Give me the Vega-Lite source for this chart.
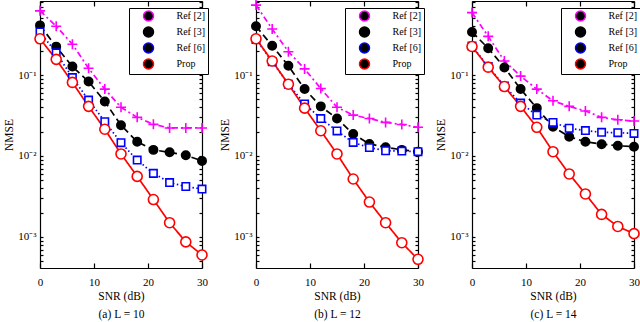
{
"$schema": "https://vega.github.io/schema/vega-lite/v6.json",
"width": 594, "height": 267,
"autosize": "none",
"padding": {"left": 40, "top": 1, "right": 6, "bottom": 54},
"resolve": {
  "scale": {"x": "independent", "color": "independent"},
  "axis": {"x": "independent", "y": "independent"},
  "legend": {"color": "independent"}
},
"layer": [
 {"data": {"values": [
{"series":"Ref [2]","snr":0,"nmse":0.62},{"series":"Ref [2]","snr":3,"nmse":0.40},{"series":"Ref [2]","snr":6,"nmse":0.24},{"series":"Ref [2]","snr":9,"nmse":0.121},{"series":"Ref [2]","snr":12,"nmse":0.067},{"series":"Ref [2]","snr":15,"nmse":0.040},{"series":"Ref [2]","snr":18,"nmse":0.030},{"series":"Ref [2]","snr":21,"nmse":0.0246},{"series":"Ref [2]","snr":24,"nmse":0.0222},{"series":"Ref [2]","snr":27,"nmse":0.0222},{"series":"Ref [2]","snr":30,"nmse":0.0222},
{"series":"Ref [3]","snr":0,"nmse":0.41},{"series":"Ref [3]","snr":3,"nmse":0.224},{"series":"Ref [3]","snr":6,"nmse":0.127},{"series":"Ref [3]","snr":9,"nmse":0.083},{"series":"Ref [3]","snr":12,"nmse":0.047},{"series":"Ref [3]","snr":15,"nmse":0.024},{"series":"Ref [3]","snr":18,"nmse":0.0150},{"series":"Ref [3]","snr":21,"nmse":0.0119},{"series":"Ref [3]","snr":24,"nmse":0.0111},{"series":"Ref [3]","snr":27,"nmse":0.0102},{"series":"Ref [3]","snr":30,"nmse":0.0087},
{"series":"Ref [6]","snr":0,"nmse":0.34},{"series":"Ref [6]","snr":3,"nmse":0.188},{"series":"Ref [6]","snr":6,"nmse":0.093},{"series":"Ref [6]","snr":9,"nmse":0.049},{"series":"Ref [6]","snr":12,"nmse":0.0265},{"series":"Ref [6]","snr":15,"nmse":0.0146},{"series":"Ref [6]","snr":18,"nmse":0.0089},{"series":"Ref [6]","snr":21,"nmse":0.0061},{"series":"Ref [6]","snr":24,"nmse":0.0047},{"series":"Ref [6]","snr":27,"nmse":0.0042},{"series":"Ref [6]","snr":30,"nmse":0.0039},
{"series":"Prop","snr":0,"nmse":0.28},{"series":"Prop","snr":3,"nmse":0.156},{"series":"Prop","snr":6,"nmse":0.081},{"series":"Prop","snr":9,"nmse":0.041},{"series":"Prop","snr":12,"nmse":0.0214},{"series":"Prop","snr":15,"nmse":0.0106},{"series":"Prop","snr":18,"nmse":0.0056},{"series":"Prop","snr":21,"nmse":0.0029},{"series":"Prop","snr":24,"nmse":0.0015},{"series":"Prop","snr":27,"nmse":0.00087},{"series":"Prop","snr":30,"nmse":0.0006}
  ]},
  "mark": {"type": "line", "strokeWidth": 1.7},
  "encoding": {
    "x": {"field": "snr", "type": "quantitative", "scale": {"domain": [0, 30], "nice": false, "range": [0, 162]}, "axis": {"orient": "bottom", "values": [0, 10, 20, 30], "title": ["SNR (dB)", "(a)  L = 10"], "tickSize": -5, "labelPadding": 13, "titlePadding": 3, "titleLineHeight": 18}},
    "y": {"field": "nmse", "type": "quantitative", "scale": {"type": "log", "domain": [0.000414, 0.82], "nice": false}, "axis": {"orient": "left", "offset": 0, "values": [0.0005,0.0006,0.0007,0.0008,0.0009,0.001,0.002,0.003,0.004,0.005,0.006,0.007,0.008,0.009,0.01,0.02,0.03,0.04,0.05,0.06,0.07,0.08,0.09,0.1,0.2,0.3,0.4,0.5,0.6,0.7,0.8], "labelExpr": "datum.value == 0.001 ? '10⁻³' : datum.value == 0.01 ? '10⁻²' : datum.value == 0.1 ? '10⁻¹' : ''", "labelOverlap": false, "title": "NMSE", "tickSize": -3, "labelPadding": 7, "titlePadding": 3}},
    "color": {"field": "series", "type": "nominal", "scale": {"domain": ["Ref [2]", "Ref [3]", "Ref [6]", "Prop"], "range": ["#ff00ff", "#000000", "#0000ff", "#ff0000"]}, "legend": null},
    "strokeDash": {"field": "series", "type": "nominal", "scale": {"domain": ["Ref [2]", "Ref [3]", "Ref [6]", "Prop"], "range": [[6, 3, 2, 3], [7, 4], [1.5, 2.5], [1, 0]]}, "legend": null}
  }},
 {"data": {"values": [
{"series":"Ref [2]","snr":0,"nmse":0.62},{"series":"Ref [2]","snr":3,"nmse":0.40},{"series":"Ref [2]","snr":6,"nmse":0.24},{"series":"Ref [2]","snr":9,"nmse":0.121},{"series":"Ref [2]","snr":12,"nmse":0.067},{"series":"Ref [2]","snr":15,"nmse":0.040},{"series":"Ref [2]","snr":18,"nmse":0.030},{"series":"Ref [2]","snr":21,"nmse":0.0246},{"series":"Ref [2]","snr":24,"nmse":0.0222},{"series":"Ref [2]","snr":27,"nmse":0.0222},{"series":"Ref [2]","snr":30,"nmse":0.0222},
{"series":"Ref [3]","snr":0,"nmse":0.41},{"series":"Ref [3]","snr":3,"nmse":0.224},{"series":"Ref [3]","snr":6,"nmse":0.127},{"series":"Ref [3]","snr":9,"nmse":0.083},{"series":"Ref [3]","snr":12,"nmse":0.047},{"series":"Ref [3]","snr":15,"nmse":0.024},{"series":"Ref [3]","snr":18,"nmse":0.0150},{"series":"Ref [3]","snr":21,"nmse":0.0119},{"series":"Ref [3]","snr":24,"nmse":0.0111},{"series":"Ref [3]","snr":27,"nmse":0.0102},{"series":"Ref [3]","snr":30,"nmse":0.0087},
{"series":"Ref [6]","snr":0,"nmse":0.34},{"series":"Ref [6]","snr":3,"nmse":0.188},{"series":"Ref [6]","snr":6,"nmse":0.093},{"series":"Ref [6]","snr":9,"nmse":0.049},{"series":"Ref [6]","snr":12,"nmse":0.0265},{"series":"Ref [6]","snr":15,"nmse":0.0146},{"series":"Ref [6]","snr":18,"nmse":0.0089},{"series":"Ref [6]","snr":21,"nmse":0.0061},{"series":"Ref [6]","snr":24,"nmse":0.0047},{"series":"Ref [6]","snr":27,"nmse":0.0042},{"series":"Ref [6]","snr":30,"nmse":0.0039},
{"series":"Prop","snr":0,"nmse":0.28},{"series":"Prop","snr":3,"nmse":0.156},{"series":"Prop","snr":6,"nmse":0.081},{"series":"Prop","snr":9,"nmse":0.041},{"series":"Prop","snr":12,"nmse":0.0214},{"series":"Prop","snr":15,"nmse":0.0106},{"series":"Prop","snr":18,"nmse":0.0056},{"series":"Prop","snr":21,"nmse":0.0029},{"series":"Prop","snr":24,"nmse":0.0015},{"series":"Prop","snr":27,"nmse":0.00087},{"series":"Prop","snr":30,"nmse":0.0006}
  ]},
  "mark": {"type": "point", "filled": false, "strokeWidth": 1.6, "opacity": 1},
  "encoding": {
    "x": {"field": "snr", "type": "quantitative", "scale": {"domain": [0, 30], "nice": false, "range": [0, 162]}, "axis": {"orient": "top", "values": [0, 10, 20, 30], "labels": false, "title": null, "tickSize": -5}},
    "y": {"field": "nmse", "type": "quantitative", "scale": {"type": "log", "domain": [0.000414, 0.82], "nice": false}, "axis": {"orient": "right", "offset": -432, "values": [0.0005,0.0006,0.0007,0.0008,0.0009,0.001,0.002,0.003,0.004,0.005,0.006,0.007,0.008,0.009,0.01,0.02,0.03,0.04,0.05,0.06,0.07,0.08,0.09,0.1,0.2,0.3,0.4,0.5,0.6,0.7,0.8], "labels": false, "title": null, "tickSize": -3}},
    "color": {"field": "series", "type": "nominal", "scale": {"domain": ["Ref [2]", "Ref [3]", "Ref [6]", "Prop"], "range": ["#ff00ff", "#000000", "#0000ff", "#ff0000"]},
      "legend": {"title": null, "orient": "none", "legendX": 89, "legendY": 7,
        "encode": {"symbols": {"update": {
          "shape": {"signal": "datum.value === 'Ref [2]' ? 'M-3.5,0H-2.5M-1.9,0H-0.9M-0.8,0H0.8M0,-0.8V0.8M0.9,0H1.9M2.5,0H3.5' : datum.value === 'Ref [3]' ? 'M-3.5,0H-2.5M-1.9,0H-0.9M0.9,0H1.9M2.5,0H3.5M0.9,0A0.9,0.9 0 1,1 -0.9,0A0.9,0.9 0 1,1 0.9,0Z' : datum.value === 'Ref [6]' ? 'M-3.5,0H-3.2M-2.8,0H-2.5M-2.1,0H-1.8M-1.4,0H-1.1M-0.8,-0.8H0.8V0.8H-0.8ZM1.1,0H1.4M1.8,0H2.1M2.5,0H2.8M3.2,0H3.5' : 'M-3.5,0H-0.9M0.9,0A0.9,0.9 0 1,1 -0.9,0A0.9,0.9 0 1,1 0.9,0M0.9,0H3.5'"},
          "fill": {"signal": "datum.value === 'Ref [3]' ? '#000000' : 'transparent'"},
          "stroke": {"signal": "datum.value === 'Ref [2]' ? '#ff00ff' : datum.value === 'Ref [3]' ? '#000000' : datum.value === 'Ref [6]' ? '#0000ff' : '#ff0000'"},
          "strokeWidth": {"value": 1.5},
          "size": {"value": 100}
        }}}}},
    "shape": {"field": "series", "type": "nominal", "scale": {"domain": ["Ref [2]", "Ref [3]", "Ref [6]", "Prop"], "range": ["M-1,0L1,0M0,-1L0,1", "circle", "square", "circle"]}, "legend": null},
    "size": {"condition": [{"test": "datum.series === 'Ref [2]'", "value": 100}, {"test": "datum.series === 'Ref [3]'", "value": 70}, {"test": "datum.series === 'Ref [6]'", "value": 55}], "value": 100},
    "fill": {"field": "series", "type": "nominal", "scale": {"domain": ["Ref [2]", "Ref [3]", "Ref [6]", "Prop"], "range": ["transparent", "#000000", "#ffffff", "#ffffff"]}, "legend": null}
  }},
 {"data": {"values": [
{"series":"Ref [2]","snr":0,"nmse":0.73},{"series":"Ref [2]","snr":3,"nmse":0.37},{"series":"Ref [2]","snr":6,"nmse":0.194},{"series":"Ref [2]","snr":9,"nmse":0.119},{"series":"Ref [2]","snr":12,"nmse":0.068},{"series":"Ref [2]","snr":15,"nmse":0.040},{"series":"Ref [2]","snr":18,"nmse":0.032},{"series":"Ref [2]","snr":21,"nmse":0.029},{"series":"Ref [2]","snr":24,"nmse":0.026},{"series":"Ref [2]","snr":27,"nmse":0.0245},{"series":"Ref [2]","snr":30,"nmse":0.0226},
{"series":"Ref [3]","snr":0,"nmse":0.40},{"series":"Ref [3]","snr":3,"nmse":0.23},{"series":"Ref [3]","snr":6,"nmse":0.130},{"series":"Ref [3]","snr":9,"nmse":0.067},{"series":"Ref [3]","snr":12,"nmse":0.041},{"series":"Ref [3]","snr":15,"nmse":0.029},{"series":"Ref [3]","snr":18,"nmse":0.0187},{"series":"Ref [3]","snr":21,"nmse":0.0141},{"series":"Ref [3]","snr":24,"nmse":0.0128},{"series":"Ref [3]","snr":27,"nmse":0.0119},{"series":"Ref [3]","snr":30,"nmse":0.0113},
{"series":"Ref [6]","snr":0,"nmse":0.275},{"series":"Ref [6]","snr":3,"nmse":0.146},{"series":"Ref [6]","snr":6,"nmse":0.077},{"series":"Ref [6]","snr":9,"nmse":0.044},{"series":"Ref [6]","snr":12,"nmse":0.029},{"series":"Ref [6]","snr":15,"nmse":0.0204},{"series":"Ref [6]","snr":18,"nmse":0.0147},{"series":"Ref [6]","snr":21,"nmse":0.0127},{"series":"Ref [6]","snr":24,"nmse":0.0116},{"series":"Ref [6]","snr":27,"nmse":0.0115},{"series":"Ref [6]","snr":30,"nmse":0.0113},
{"series":"Prop","snr":0,"nmse":0.28},{"series":"Prop","snr":3,"nmse":0.149},{"series":"Prop","snr":6,"nmse":0.077},{"series":"Prop","snr":9,"nmse":0.039},{"series":"Prop","snr":12,"nmse":0.0205},{"series":"Prop","snr":15,"nmse":0.0106},{"series":"Prop","snr":18,"nmse":0.0052},{"series":"Prop","snr":21,"nmse":0.0027},{"series":"Prop","snr":24,"nmse":0.0015},{"series":"Prop","snr":27,"nmse":0.00085},{"series":"Prop","snr":30,"nmse":0.00053}
  ]},
  "mark": {"type": "line", "strokeWidth": 1.7},
  "encoding": {
    "x": {"field": "snr", "type": "quantitative", "scale": {"domain": [0, 30], "nice": false, "range": [216, 378]}, "axis": {"orient": "bottom", "values": [0, 10, 20, 30], "title": ["SNR (dB)", "(b)  L = 12"], "tickSize": -5, "labelPadding": 13, "titlePadding": 3, "titleLineHeight": 18}},
    "y": {"field": "nmse", "type": "quantitative", "scale": {"type": "log", "domain": [0.000414, 0.82], "nice": false}, "axis": {"orient": "left", "offset": -216, "values": [0.0005,0.0006,0.0007,0.0008,0.0009,0.001,0.002,0.003,0.004,0.005,0.006,0.007,0.008,0.009,0.01,0.02,0.03,0.04,0.05,0.06,0.07,0.08,0.09,0.1,0.2,0.3,0.4,0.5,0.6,0.7,0.8], "labelExpr": "datum.value == 0.001 ? '10⁻³' : datum.value == 0.01 ? '10⁻²' : datum.value == 0.1 ? '10⁻¹' : ''", "labelOverlap": false, "title": "NMSE", "tickSize": -3, "labelPadding": 7, "titlePadding": 3}},
    "color": {"field": "series", "type": "nominal", "scale": {"domain": ["Ref [2]", "Ref [3]", "Ref [6]", "Prop"], "range": ["#ff00ff", "#000000", "#0000ff", "#ff0000"]}, "legend": null},
    "strokeDash": {"field": "series", "type": "nominal", "scale": {"domain": ["Ref [2]", "Ref [3]", "Ref [6]", "Prop"], "range": [[6, 3, 2, 3], [7, 4], [1.5, 2.5], [1, 0]]}, "legend": null}
  }},
 {"data": {"values": [
{"series":"Ref [2]","snr":0,"nmse":0.73},{"series":"Ref [2]","snr":3,"nmse":0.37},{"series":"Ref [2]","snr":6,"nmse":0.194},{"series":"Ref [2]","snr":9,"nmse":0.119},{"series":"Ref [2]","snr":12,"nmse":0.068},{"series":"Ref [2]","snr":15,"nmse":0.040},{"series":"Ref [2]","snr":18,"nmse":0.032},{"series":"Ref [2]","snr":21,"nmse":0.029},{"series":"Ref [2]","snr":24,"nmse":0.026},{"series":"Ref [2]","snr":27,"nmse":0.0245},{"series":"Ref [2]","snr":30,"nmse":0.0226},
{"series":"Ref [3]","snr":0,"nmse":0.40},{"series":"Ref [3]","snr":3,"nmse":0.23},{"series":"Ref [3]","snr":6,"nmse":0.130},{"series":"Ref [3]","snr":9,"nmse":0.067},{"series":"Ref [3]","snr":12,"nmse":0.041},{"series":"Ref [3]","snr":15,"nmse":0.029},{"series":"Ref [3]","snr":18,"nmse":0.0187},{"series":"Ref [3]","snr":21,"nmse":0.0141},{"series":"Ref [3]","snr":24,"nmse":0.0128},{"series":"Ref [3]","snr":27,"nmse":0.0119},{"series":"Ref [3]","snr":30,"nmse":0.0113},
{"series":"Ref [6]","snr":0,"nmse":0.275},{"series":"Ref [6]","snr":3,"nmse":0.146},{"series":"Ref [6]","snr":6,"nmse":0.077},{"series":"Ref [6]","snr":9,"nmse":0.044},{"series":"Ref [6]","snr":12,"nmse":0.029},{"series":"Ref [6]","snr":15,"nmse":0.0204},{"series":"Ref [6]","snr":18,"nmse":0.0147},{"series":"Ref [6]","snr":21,"nmse":0.0127},{"series":"Ref [6]","snr":24,"nmse":0.0116},{"series":"Ref [6]","snr":27,"nmse":0.0115},{"series":"Ref [6]","snr":30,"nmse":0.0113},
{"series":"Prop","snr":0,"nmse":0.28},{"series":"Prop","snr":3,"nmse":0.149},{"series":"Prop","snr":6,"nmse":0.077},{"series":"Prop","snr":9,"nmse":0.039},{"series":"Prop","snr":12,"nmse":0.0205},{"series":"Prop","snr":15,"nmse":0.0106},{"series":"Prop","snr":18,"nmse":0.0052},{"series":"Prop","snr":21,"nmse":0.0027},{"series":"Prop","snr":24,"nmse":0.0015},{"series":"Prop","snr":27,"nmse":0.00085},{"series":"Prop","snr":30,"nmse":0.00053}
  ]},
  "mark": {"type": "point", "filled": false, "strokeWidth": 1.6, "opacity": 1},
  "encoding": {
    "x": {"field": "snr", "type": "quantitative", "scale": {"domain": [0, 30], "nice": false, "range": [216, 378]}, "axis": {"orient": "top", "values": [0, 10, 20, 30], "labels": false, "title": null, "tickSize": -5}},
    "y": {"field": "nmse", "type": "quantitative", "scale": {"type": "log", "domain": [0.000414, 0.82], "nice": false}, "axis": {"orient": "right", "offset": -216, "values": [0.0005,0.0006,0.0007,0.0008,0.0009,0.001,0.002,0.003,0.004,0.005,0.006,0.007,0.008,0.009,0.01,0.02,0.03,0.04,0.05,0.06,0.07,0.08,0.09,0.1,0.2,0.3,0.4,0.5,0.6,0.7,0.8], "labels": false, "title": null, "tickSize": -3}},
    "color": {"field": "series", "type": "nominal", "scale": {"domain": ["Ref [2]", "Ref [3]", "Ref [6]", "Prop"], "range": ["#ff00ff", "#000000", "#0000ff", "#ff0000"]},
      "legend": {"title": null, "orient": "none", "legendX": 305, "legendY": 7,
        "encode": {"symbols": {"update": {
          "shape": {"signal": "datum.value === 'Ref [2]' ? 'M-3.5,0H-2.5M-1.9,0H-0.9M-0.8,0H0.8M0,-0.8V0.8M0.9,0H1.9M2.5,0H3.5' : datum.value === 'Ref [3]' ? 'M-3.5,0H-2.5M-1.9,0H-0.9M0.9,0H1.9M2.5,0H3.5M0.9,0A0.9,0.9 0 1,1 -0.9,0A0.9,0.9 0 1,1 0.9,0Z' : datum.value === 'Ref [6]' ? 'M-3.5,0H-3.2M-2.8,0H-2.5M-2.1,0H-1.8M-1.4,0H-1.1M-0.8,-0.8H0.8V0.8H-0.8ZM1.1,0H1.4M1.8,0H2.1M2.5,0H2.8M3.2,0H3.5' : 'M-3.5,0H-0.9M0.9,0A0.9,0.9 0 1,1 -0.9,0A0.9,0.9 0 1,1 0.9,0M0.9,0H3.5'"},
          "fill": {"signal": "datum.value === 'Ref [3]' ? '#000000' : 'transparent'"},
          "stroke": {"signal": "datum.value === 'Ref [2]' ? '#ff00ff' : datum.value === 'Ref [3]' ? '#000000' : datum.value === 'Ref [6]' ? '#0000ff' : '#ff0000'"},
          "strokeWidth": {"value": 1.5},
          "size": {"value": 100}
        }}}}},
    "shape": {"field": "series", "type": "nominal", "scale": {"domain": ["Ref [2]", "Ref [3]", "Ref [6]", "Prop"], "range": ["M-1,0L1,0M0,-1L0,1", "circle", "square", "circle"]}, "legend": null},
    "size": {"condition": [{"test": "datum.series === 'Ref [2]'", "value": 100}, {"test": "datum.series === 'Ref [3]'", "value": 70}, {"test": "datum.series === 'Ref [6]'", "value": 55}], "value": 100},
    "fill": {"field": "series", "type": "nominal", "scale": {"domain": ["Ref [2]", "Ref [3]", "Ref [6]", "Prop"], "range": ["transparent", "#000000", "#ffffff", "#ffffff"]}, "legend": null}
  }},
 {"data": {"values": [
{"series":"Ref [2]","snr":0,"nmse":0.59},{"series":"Ref [2]","snr":3,"nmse":0.30},{"series":"Ref [2]","snr":6,"nmse":0.149},{"series":"Ref [2]","snr":9,"nmse":0.097},{"series":"Ref [2]","snr":12,"nmse":0.067},{"series":"Ref [2]","snr":15,"nmse":0.048},{"series":"Ref [2]","snr":18,"nmse":0.041},{"series":"Ref [2]","snr":21,"nmse":0.036},{"series":"Ref [2]","snr":24,"nmse":0.030},{"series":"Ref [2]","snr":27,"nmse":0.028},{"series":"Ref [2]","snr":30,"nmse":0.027},
{"series":"Ref [3]","snr":0,"nmse":0.34},{"series":"Ref [3]","snr":3,"nmse":0.214},{"series":"Ref [3]","snr":6,"nmse":0.124},{"series":"Ref [3]","snr":9,"nmse":0.067},{"series":"Ref [3]","snr":12,"nmse":0.039},{"series":"Ref [3]","snr":15,"nmse":0.023},{"series":"Ref [3]","snr":18,"nmse":0.0173},{"series":"Ref [3]","snr":21,"nmse":0.0150},{"series":"Ref [3]","snr":24,"nmse":0.0140},{"series":"Ref [3]","snr":27,"nmse":0.0134},{"series":"Ref [3]","snr":30,"nmse":0.0130},
{"series":"Ref [6]","snr":0,"nmse":0.228},{"series":"Ref [6]","snr":3,"nmse":0.127},{"series":"Ref [6]","snr":6,"nmse":0.073},{"series":"Ref [6]","snr":9,"nmse":0.045},{"series":"Ref [6]","snr":12,"nmse":0.032},{"series":"Ref [6]","snr":15,"nmse":0.026},{"series":"Ref [6]","snr":18,"nmse":0.022},{"series":"Ref [6]","snr":21,"nmse":0.0206},{"series":"Ref [6]","snr":24,"nmse":0.0196},{"series":"Ref [6]","snr":27,"nmse":0.0194},{"series":"Ref [6]","snr":30,"nmse":0.019},
{"series":"Prop","snr":0,"nmse":0.225},{"series":"Prop","snr":3,"nmse":0.125},{"series":"Prop","snr":6,"nmse":0.072},{"series":"Prop","snr":9,"nmse":0.041},{"series":"Prop","snr":12,"nmse":0.0226},{"series":"Prop","snr":15,"nmse":0.0113},{"series":"Prop","snr":18,"nmse":0.0060},{"series":"Prop","snr":21,"nmse":0.0034},{"series":"Prop","snr":24,"nmse":0.0019},{"series":"Prop","snr":27,"nmse":0.00135},{"series":"Prop","snr":30,"nmse":0.0011}
  ]},
  "mark": {"type": "line", "strokeWidth": 1.7},
  "encoding": {
    "x": {"field": "snr", "type": "quantitative", "scale": {"domain": [0, 30], "nice": false, "range": [432, 594]}, "axis": {"orient": "bottom", "values": [0, 10, 20, 30], "title": ["SNR (dB)", "(c)  L = 14"], "tickSize": -5, "labelPadding": 13, "titlePadding": 3, "titleLineHeight": 18}},
    "y": {"field": "nmse", "type": "quantitative", "scale": {"type": "log", "domain": [0.000414, 0.82], "nice": false}, "axis": {"orient": "left", "offset": -432, "values": [0.0005,0.0006,0.0007,0.0008,0.0009,0.001,0.002,0.003,0.004,0.005,0.006,0.007,0.008,0.009,0.01,0.02,0.03,0.04,0.05,0.06,0.07,0.08,0.09,0.1,0.2,0.3,0.4,0.5,0.6,0.7,0.8], "labelExpr": "datum.value == 0.001 ? '10⁻³' : datum.value == 0.01 ? '10⁻²' : datum.value == 0.1 ? '10⁻¹' : ''", "labelOverlap": false, "title": "NMSE", "tickSize": -3, "labelPadding": 7, "titlePadding": 3}},
    "color": {"field": "series", "type": "nominal", "scale": {"domain": ["Ref [2]", "Ref [3]", "Ref [6]", "Prop"], "range": ["#ff00ff", "#000000", "#0000ff", "#ff0000"]}, "legend": null},
    "strokeDash": {"field": "series", "type": "nominal", "scale": {"domain": ["Ref [2]", "Ref [3]", "Ref [6]", "Prop"], "range": [[6, 3, 2, 3], [7, 4], [1.5, 2.5], [1, 0]]}, "legend": null}
  }},
 {"data": {"values": [
{"series":"Ref [2]","snr":0,"nmse":0.59},{"series":"Ref [2]","snr":3,"nmse":0.30},{"series":"Ref [2]","snr":6,"nmse":0.149},{"series":"Ref [2]","snr":9,"nmse":0.097},{"series":"Ref [2]","snr":12,"nmse":0.067},{"series":"Ref [2]","snr":15,"nmse":0.048},{"series":"Ref [2]","snr":18,"nmse":0.041},{"series":"Ref [2]","snr":21,"nmse":0.036},{"series":"Ref [2]","snr":24,"nmse":0.030},{"series":"Ref [2]","snr":27,"nmse":0.028},{"series":"Ref [2]","snr":30,"nmse":0.027},
{"series":"Ref [3]","snr":0,"nmse":0.34},{"series":"Ref [3]","snr":3,"nmse":0.214},{"series":"Ref [3]","snr":6,"nmse":0.124},{"series":"Ref [3]","snr":9,"nmse":0.067},{"series":"Ref [3]","snr":12,"nmse":0.039},{"series":"Ref [3]","snr":15,"nmse":0.023},{"series":"Ref [3]","snr":18,"nmse":0.0173},{"series":"Ref [3]","snr":21,"nmse":0.0150},{"series":"Ref [3]","snr":24,"nmse":0.0140},{"series":"Ref [3]","snr":27,"nmse":0.0134},{"series":"Ref [3]","snr":30,"nmse":0.0130},
{"series":"Ref [6]","snr":0,"nmse":0.228},{"series":"Ref [6]","snr":3,"nmse":0.127},{"series":"Ref [6]","snr":6,"nmse":0.073},{"series":"Ref [6]","snr":9,"nmse":0.045},{"series":"Ref [6]","snr":12,"nmse":0.032},{"series":"Ref [6]","snr":15,"nmse":0.026},{"series":"Ref [6]","snr":18,"nmse":0.022},{"series":"Ref [6]","snr":21,"nmse":0.0206},{"series":"Ref [6]","snr":24,"nmse":0.0196},{"series":"Ref [6]","snr":27,"nmse":0.0194},{"series":"Ref [6]","snr":30,"nmse":0.019},
{"series":"Prop","snr":0,"nmse":0.225},{"series":"Prop","snr":3,"nmse":0.125},{"series":"Prop","snr":6,"nmse":0.072},{"series":"Prop","snr":9,"nmse":0.041},{"series":"Prop","snr":12,"nmse":0.0226},{"series":"Prop","snr":15,"nmse":0.0113},{"series":"Prop","snr":18,"nmse":0.0060},{"series":"Prop","snr":21,"nmse":0.0034},{"series":"Prop","snr":24,"nmse":0.0019},{"series":"Prop","snr":27,"nmse":0.00135},{"series":"Prop","snr":30,"nmse":0.0011}
  ]},
  "mark": {"type": "point", "filled": false, "strokeWidth": 1.6, "opacity": 1},
  "encoding": {
    "x": {"field": "snr", "type": "quantitative", "scale": {"domain": [0, 30], "nice": false, "range": [432, 594]}, "axis": {"orient": "top", "values": [0, 10, 20, 30], "labels": false, "title": null, "tickSize": -5}},
    "y": {"field": "nmse", "type": "quantitative", "scale": {"type": "log", "domain": [0.000414, 0.82], "nice": false}, "axis": {"orient": "right", "offset": 0, "values": [0.0005,0.0006,0.0007,0.0008,0.0009,0.001,0.002,0.003,0.004,0.005,0.006,0.007,0.008,0.009,0.01,0.02,0.03,0.04,0.05,0.06,0.07,0.08,0.09,0.1,0.2,0.3,0.4,0.5,0.6,0.7,0.8], "labels": false, "title": null, "tickSize": -3}},
    "color": {"field": "series", "type": "nominal", "scale": {"domain": ["Ref [2]", "Ref [3]", "Ref [6]", "Prop"], "range": ["#ff00ff", "#000000", "#0000ff", "#ff0000"]},
      "legend": {"title": null, "orient": "none", "legendX": 521, "legendY": 7,
        "encode": {"symbols": {"update": {
          "shape": {"signal": "datum.value === 'Ref [2]' ? 'M-3.5,0H-2.5M-1.9,0H-0.9M-0.8,0H0.8M0,-0.8V0.8M0.9,0H1.9M2.5,0H3.5' : datum.value === 'Ref [3]' ? 'M-3.5,0H-2.5M-1.9,0H-0.9M0.9,0H1.9M2.5,0H3.5M0.9,0A0.9,0.9 0 1,1 -0.9,0A0.9,0.9 0 1,1 0.9,0Z' : datum.value === 'Ref [6]' ? 'M-3.5,0H-3.2M-2.8,0H-2.5M-2.1,0H-1.8M-1.4,0H-1.1M-0.8,-0.8H0.8V0.8H-0.8ZM1.1,0H1.4M1.8,0H2.1M2.5,0H2.8M3.2,0H3.5' : 'M-3.5,0H-0.9M0.9,0A0.9,0.9 0 1,1 -0.9,0A0.9,0.9 0 1,1 0.9,0M0.9,0H3.5'"},
          "fill": {"signal": "datum.value === 'Ref [3]' ? '#000000' : 'transparent'"},
          "stroke": {"signal": "datum.value === 'Ref [2]' ? '#ff00ff' : datum.value === 'Ref [3]' ? '#000000' : datum.value === 'Ref [6]' ? '#0000ff' : '#ff0000'"},
          "strokeWidth": {"value": 1.5},
          "size": {"value": 100}
        }}}}},
    "shape": {"field": "series", "type": "nominal", "scale": {"domain": ["Ref [2]", "Ref [3]", "Ref [6]", "Prop"], "range": ["M-1,0L1,0M0,-1L0,1", "circle", "square", "circle"]}, "legend": null},
    "size": {"condition": [{"test": "datum.series === 'Ref [2]'", "value": 100}, {"test": "datum.series === 'Ref [3]'", "value": 70}, {"test": "datum.series === 'Ref [6]'", "value": 55}], "value": 100},
    "fill": {"field": "series", "type": "nominal", "scale": {"domain": ["Ref [2]", "Ref [3]", "Ref [6]", "Prop"], "range": ["transparent", "#000000", "#ffffff", "#ffffff"]}, "legend": null}
  }}
],
"config": {
  "font": "Liberation Serif",
  "view": {"stroke": null},
  "axis": {"zindex": 1, "domainColor": "#000000", "domainWidth": 1.2, "tickColor": "#000000", "tickWidth": 1.2, "labelColor": "black", "labelFont": "Liberation Serif", "labelFontSize": 11, "titleFont": "Liberation Serif", "titleFontSize": 11.5, "titleFontWeight": "normal", "titleColor": "black", "grid": false, "labelFlush": false},
  "legend": {"padding": 2, "strokeColor": "black", "fillColor": "white", "cornerRadius": 0, "labelFont": "Liberation Serif", "labelFontSize": 10, "labelColor": "black", "symbolSize": 100, "symbolStrokeWidth": 1.5, "symbolOffset": 11.5, "labelOffset": 22, "rowPadding": 0}
}
}
